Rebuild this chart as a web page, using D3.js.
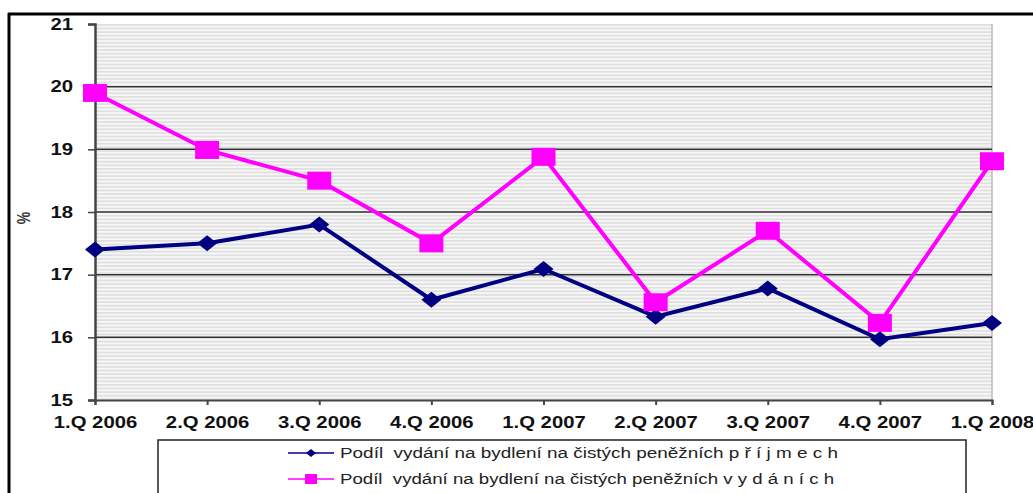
<!DOCTYPE html>
<meta charset="utf-8">
<style>
body { margin: 0; background: #fff; }
svg { display: block; }
.tick text { font-family: "Liberation Sans", Arial, sans-serif; font-weight: bold; font-size: 16px; fill: #111; }
.legend text { font-family: "Liberation Sans", Arial, sans-serif; font-size: 14px; fill: #222; white-space: pre; }
</style>
<svg width="1033" height="493"></svg>
<script src="https://d3js.org/d3.v7.min.js"></script>
<script>

var categories = ["1.Q 2006", "2.Q 2006", "3.Q 2006", "4.Q 2006", "1.Q 2007",
                  "2.Q 2007", "3.Q 2007", "4.Q 2007", "1.Q 2008"];
var prijmy = [17.4, 17.5, 17.8, 16.6, 17.09, 16.33, 16.78, 15.97, 16.23];
var vydaje = [19.9, 18.99, 18.5, 17.5, 18.88, 16.56, 17.7, 16.23, 18.81];
var yTicks = [15, 16, 17, 18, 19, 20, 21];
var seriesNames = ["Podíl  vydání na bydlení na čistých peněžních p ř í j m e c h",
                   "Podíl  vydání na bydlení na čistých peněžních v y d á n í c h"];

var svg = d3.select("svg"),
    margin = {top: 24, right: 41, bottom: 93, left: 95},
    width = +svg.attr("width") - margin.left - margin.right,
    height = +svg.attr("height") - margin.top - margin.bottom;

// the original picture is a bit stretched sideways
var stretch = 1.27;

// frame around the whole picture
svg.append("line").attr("x1", 8).attr("x2", 1033).attr("y1", 14).attr("y2", 14)
    .attr("stroke", "#000").attr("stroke-width", 3);
svg.append("line").attr("x1", 9).attr("x2", 9).attr("y1", 13).attr("y2", 493)
    .attr("stroke", "#000").attr("stroke-width", 3);

// striped background
var pat = svg.append("defs").append("pattern")
    .attr("id", "stripes").attr("patternUnits", "userSpaceOnUse")
    .attr("width", 10).attr("height", 3.6);
pat.append("rect").attr("width", 10).attr("height", 3.6).attr("fill", "#f7f7f7");
pat.append("rect").attr("width", 10).attr("height", 1.8).attr("fill", "#e0e0e0");

var x = d3.scalePoint().domain(categories).range([0, width]),
    y = d3.scaleLinear().domain([15, 21]).range([height, 0]);

var g = svg.append("g")
    .attr("transform", "translate(" + margin.left + "," + margin.top + ")");

g.append("rect").attr("width", width).attr("height", height).attr("fill", "url(#stripes)");
g.append("line").attr("x1", width).attr("x2", width).attr("y1", 0).attr("y2", height)
    .attr("stroke", "#bbb").attr("stroke-width", 1.5);

// gridlines
g.selectAll(".grid")
  .data(yTicks.filter(function(d) { return d > 15 && d < 21; }))
  .enter().append("line")
    .attr("x1", 0).attr("x2", width)
    .attr("y1", function(d) { return y(d); })
    .attr("y2", function(d) { return y(d); })
    .attr("stroke", "#333").attr("stroke-width", 1.5);

// axes
var yAxis = g.append("g")
    .call(d3.axisLeft(y).tickValues(yTicks).tickFormat(d3.format("d")).tickSize(7).tickPadding(16));
yAxis.select(".domain").attr("stroke", "#444").attr("stroke-width", 2.5);
yAxis.selectAll(".tick line").attr("stroke", "#444").attr("stroke-width", 1.5);
yAxis.selectAll(".tick text")
    .attr("x", 0).attr("font-size", "15px")
    .attr("transform", "translate(-22,0) scale(" + stretch + ",1)");

var xAxis = g.append("g")
    .attr("transform", "translate(0," + height + ")")
    .call(d3.axisBottom(x).tickSize(5).tickPadding(12));
xAxis.select(".domain").attr("stroke", "#444").attr("stroke-width", 2);
xAxis.selectAll(".tick line").attr("stroke", "#444").attr("stroke-width", 2);
xAxis.selectAll(".tick text").attr("transform", "scale(" + stretch + ",1)");

svg.append("text")
    .attr("transform", "translate(30,218) rotate(-90) scale(1," + stretch + ")")
    .attr("text-anchor", "middle")
    .style("font-family", "Liberation Sans, Arial, sans-serif")
    .style("font-weight", "bold").style("font-size", "14px").attr("fill", "#333")
    .text("%");

var line = d3.line()
    .x(function(d, i) { return x(categories[i]); })
    .y(function(d) { return y(d); });

var diamond = "M0,-8L10,0L0,8L-10,0Z";

// series 1: navy diamonds
g.append("path").datum(prijmy).attr("d", line)
    .attr("fill", "none").attr("stroke", "#000080").attr("stroke-width", 4);
g.selectAll(".dia").data(prijmy).enter().append("path")
    .attr("d", diamond).attr("fill", "#000080")
    .attr("transform", function(d, i) { return "translate(" + x(categories[i]) + "," + y(d) + ")"; });

// series 2: magenta squares
g.append("path").datum(vydaje).attr("d", line)
    .attr("fill", "none").attr("stroke", "#ff00ff").attr("stroke-width", 4);
g.selectAll(".sq").data(vydaje).enter().append("rect")
    .attr("x", function(d, i) { return x(categories[i]) - 12; })
    .attr("y", function(d) { return y(d) - 9; })
    .attr("width", 24).attr("height", 18).attr("fill", "#ff00ff");

// legend
var lg = svg.append("g").attr("class", "legend");
lg.append("rect").attr("x", 158).attr("y", 440).attr("width", 808).attr("height", 60)
    .attr("fill", "#fff").attr("stroke", "#222").attr("stroke-width", 1.5);

var items = lg.selectAll(".item").data(seriesNames).enter().append("g")
    .attr("transform", function(d, i) { return "translate(0," + (453 + i * 26) + ")"; });
items.append("line").attr("x1", 288).attr("x2", 334)
    .attr("stroke", function(d, i) { return i ? "#ff00ff" : "#000080"; })
    .attr("stroke-width", 1.5);
items.each(function(d, i) {
  var s = d3.select(this);
  if (i === 0) s.append("path").attr("d", "M0,-4L5,0L0,4L-5,0Z").attr("fill", "#000080")
      .attr("transform", "translate(311,0)");
  else s.append("rect").attr("x", 305).attr("y", -5).attr("width", 12).attr("height", 10)
      .attr("fill", "#ff00ff");
});
items.append("text").attr("x", 340).attr("dy", "0.35em")
    .attr("xml:space", "preserve")
    .attr("textLength", function(d, i) { return i ? 494 : 498; })
    .attr("lengthAdjust", "spacingAndGlyphs")
    .text(function(d) { return d; });

</script>
